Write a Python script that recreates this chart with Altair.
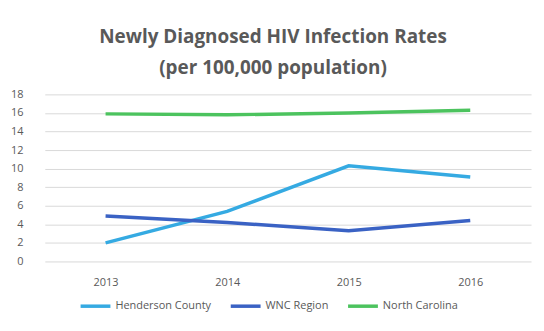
import altair as alt
import pandas as pd

years = ["2013", "2014", "2015", "2016"]
series = ["Henderson County", "WNC Region", "North Carolina"]
henderson = [2.0, 5.4, 10.3, 9.1]
wnc = [4.9, 4.2, 3.3, 4.4]
nc = [15.9, 15.8, 16.0, 16.3]
colors = ["#35aae2", "#3a62c4", "#4cc35e"]

rows = []
for name, vals in zip(series, [henderson, wnc, nc]):
    for y, v in zip(years, vals):
        rows.append({"Year": y, "Series": name, "Rate": v})
df = pd.DataFrame(rows)

chart = alt.Chart(df).mark_line(strokeWidth=3.5).encode(
    x=alt.X("Year:N", sort=years,
            scale=alt.Scale(type="point", padding=0.5),
            axis=alt.Axis(title=None, labelAngle=0, domain=False, ticks=False,
                          labelPadding=15, labelFontSize=11, labelColor="#595959",
                          labelFont="Open Sans", grid=False)),
    y=alt.Y("Rate:Q", scale=alt.Scale(domain=[0, 18]),
            axis=alt.Axis(title=None, values=list(range(0, 19, 2)), domain=False,
                          ticks=False, labelPadding=22, labelFontSize=11,
                          labelColor="#595959", labelFont="Open Sans",
                          gridColor="#d9d9d9", gridWidth=1)),
    color=alt.Color("Series:N", sort=series,
                    scale=alt.Scale(domain=series, range=colors),
                    legend=alt.Legend(title=None, orient="none", direction="horizontal",
                                      legendX=34, legendY=196,
                                      symbolType="stroke", symbolStrokeWidth=3.5,
                                      symbolSize=900, labelFontSize=11,
                                      labelColor="#595959", labelFont="Open Sans",
                                      columnPadding=12, labelOffset=3)),
    order=alt.Order("Year:N"),
).properties(
    width=489,
    height=168,
    title=alt.TitleParams(
        text=["Newly Diagnosed HIV Infection Rates", "(per 100,000 population)"],
        font="Open Sans", fontSize=19, fontWeight="bold", color="#595959",
        lineHeight=32, anchor="middle", offset=10, dx=-15,
    ),
    background="white",
    padding={"left": 2, "top": 19, "right": 5, "bottom": 5},
).configure_view(stroke=None)

chart.save("out.html", embed_options={"renderer": "svg", "actions": False})
